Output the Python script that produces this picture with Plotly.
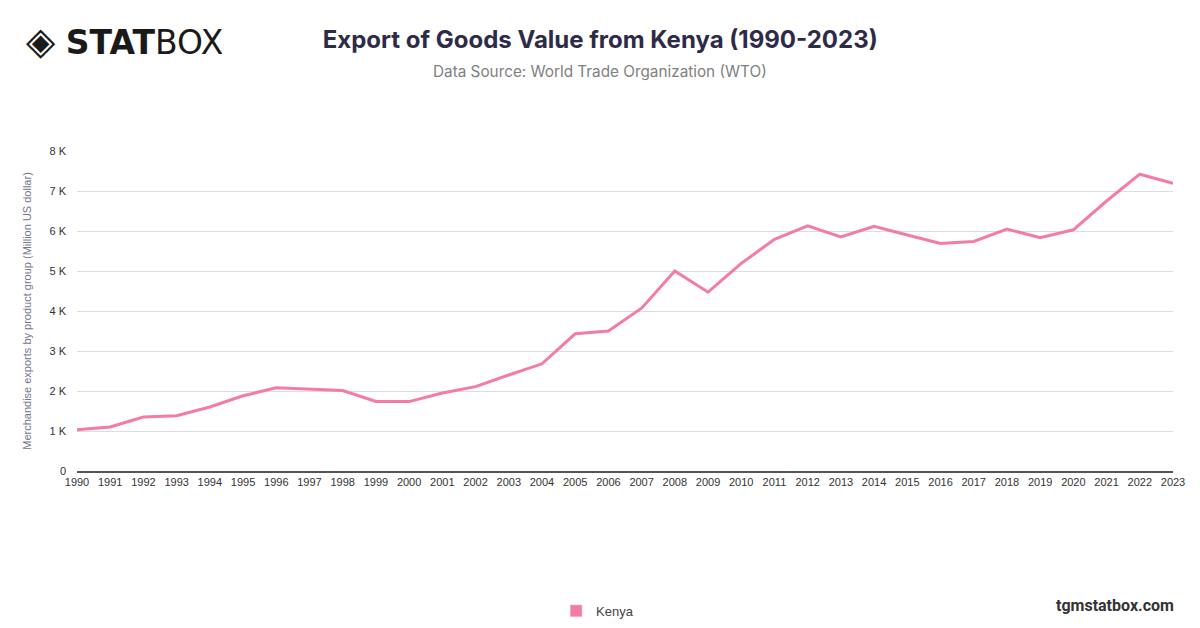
import plotly.graph_objects as go

years = list(range(1990, 2024))
kenya_exports = [
    1030, 1100, 1350, 1380, 1600, 1880, 2080, 2050, 2010, 1740,
    1735, 1950, 2110, 2400, 2680, 3430, 3500, 4070, 5000, 4470,
    5190, 5790, 6130, 5850, 6120, 5900, 5690, 5740, 6050, 5830,
    6030, 6750, 7420, 7190,
]
y_ticks = [0, 1000, 2000, 3000, 4000, 5000, 6000, 7000, 8000]
y_tick_labels = ["0", "1 K", "2 K", "3 K", "4 K", "5 K", "6 K", "7 K", "8 K"]

pink = "#f47ba6"

fig = go.Figure()
fig.add_trace(go.Scatter(
    x=years, y=kenya_exports, mode="lines", name="Kenya",
    line=dict(color=pink, width=3), showlegend=False,
))
# square swatch for the legend
fig.add_trace(go.Bar(x=[None], y=[None], name="Kenya", marker_color=pink))

# the page body adds an 8px offset, margins are set to make up for it
fig.update_layout(
    width=1200, height=628,
    paper_bgcolor="white", plot_bgcolor="white",
    margin=dict(l=69, r=35, t=143, b=165),
    font=dict(family="Liberation Sans, Arial, sans-serif", color="#333333", size=11),
    title=dict(
        text="<b>Export of Goods Value from Kenya (1990-2023)</b>",
        x=0.4935, xanchor="center", y=0.949, yanchor="middle",
        font=dict(family="Inter, sans-serif", size=24, color="#2e2b48"),
    ),
    legend=dict(
        orientation="h", x=0.475, xanchor="center", yref="container", y=0.04, yanchor="middle",
        font=dict(size=13, color="#444444"), itemwidth=30,
    ),
    xaxis=dict(
        range=[1990, 2023], tickmode="array", tickvals=years,
        showgrid=False, showline=True, linecolor="#555555", linewidth=1.5,
        ticks="", tickfont=dict(size=11, color="#333333"), zeroline=False,
        automargin=False, fixedrange=True,
    ),
    yaxis=dict(
        range=[0, 8000], tickmode="array", tickvals=y_ticks, ticktext=y_tick_labels,
        showgrid=True, gridcolor="#dddddd", gridwidth=1, zeroline=False,
        ticks="", ticklabelstandoff=10, tickfont=dict(size=11, color="#333333"),
        automargin=False,
        title=dict(text="Merchandise exports by product group (Million US dollar)",
                   font=dict(size=11, color="#77728f"), standoff=15),
    ),
    annotations=[
        dict(text="Data Source: World Trade Organization (WTO)", xref="paper", yref="paper",
             x=0.477, y=1.25, xanchor="center", yanchor="middle", showarrow=False,
             font=dict(family="Inter, sans-serif", size=15.3, color="#808080")),
        dict(text="<span style='font-size:38px'>◈</span> <b>STAT</b>BOX", xref="paper", yref="paper",
             x=-0.048, y=1.345, xanchor="left", yanchor="middle", showarrow=False,
             font=dict(family="DejaVu Sans, sans-serif", size=33, color="#1a1a1a")),
        dict(text="<b>tgmstatbox.com</b>", xref="paper", yref="paper",
             x=1.003, y=-0.42, xanchor="right", yanchor="middle", showarrow=False,
             font=dict(family="Roboto, sans-serif", size=16, color="#333333")),
    ],
)

fig.write_html("out.html")
